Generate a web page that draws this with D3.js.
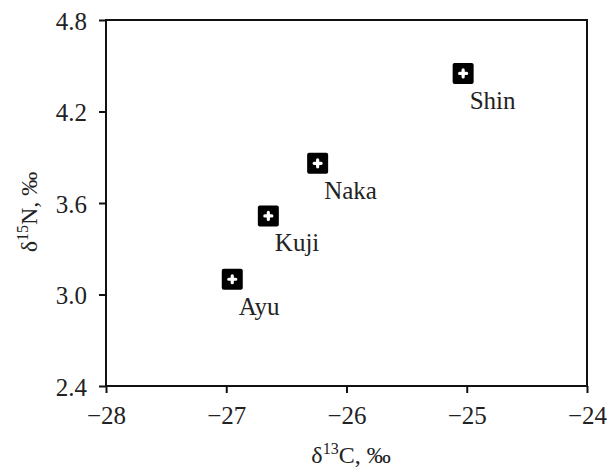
<!DOCTYPE html>
<html><head><meta charset="utf-8">
<script src="https://cdn.jsdelivr.net/npm/d3@7"></script>
<style>body{margin:0;background:#fff}</style>
</head><body>
<svg id="c" width="607" height="470"></svg>
<script>
const sites = ["Shin", "Naka", "Kuji", "Ayu"];
const d13C = [-25.03, -26.24, -26.65, -26.95];
const d15N = [4.45, 3.86, 3.515, 3.10];
const xTicks = [-28, -27, -26, -25, -24];
const yTicks = [2.4, 3.0, 3.6, 4.2, 4.8];

const svg = d3.select("#c");
const font = "'Liberation Serif','Times New Roman',serif";
const m = {l:106, t:20, r:587, b:386};
const x = d3.scaleLinear().domain([-28,-24]).range([m.l, m.r]);
const y = d3.scaleLinear().domain([2.4,4.8]).range([m.b, m.t]);

// frame
svg.append("rect").attr("x",m.l).attr("y",m.t).attr("width",m.r-m.l).attr("height",m.b-m.t)
  .attr("fill","none").attr("stroke","#111").attr("stroke-width",2);

const fmtX = d => (d<0?"\u2212":"") + Math.abs(d);
const xa = svg.append("g").attr("transform",`translate(0,${m.b})`)
  .call(d3.axisBottom(x).tickValues(xTicks).tickSize(7).tickPadding(14).tickFormat(fmtX));
const ya = svg.append("g").attr("transform",`translate(${m.l},0)`)
  .call(d3.axisLeft(y).tickValues(yTicks).tickSize(7).tickPadding(12).tickFormat(d3.format(".1f")));
[xa,ya].forEach(a=>{
  a.select(".domain").remove();
  a.selectAll("line").attr("stroke","#111").attr("stroke-width",2);
  a.selectAll("text").attr("font-family",font).attr("font-size",25).attr("fill","#222");
});
ya.selectAll("text").attr("dy","0.36em");
xa.selectAll("text").attr("dy","0.68em");

// axis titles
const xt = svg.append("text").attr("x",351).attr("y",463).attr("text-anchor","middle")
  .attr("font-family",font).attr("font-size",24).attr("fill","#222");
xt.append("tspan").text("\u03b4");
xt.append("tspan").attr("font-size",16).attr("dy",-9).text("13");
xt.append("tspan").attr("dy",9).text("C, \u2030");

const yt = svg.append("text").attr("transform","translate(37,212) rotate(-90)").attr("text-anchor","middle")
  .attr("font-family",font).attr("font-size",24).attr("fill","#222");
yt.append("tspan").text("\u03b4");
yt.append("tspan").attr("font-size",16).attr("dy",-9).text("15");
yt.append("tspan").attr("dy",9).text("N, \u2030");

// points
const data = sites.map((s,i)=>({s, cx:d13C[i], ny:d15N[i]}));
const g = svg.append("g").selectAll("g").data(data).join("g")
  .attr("transform", d=>`translate(${x(d.cx)},${y(d.ny)})`);
g.append("rect").attr("x",-10.5).attr("y",-10.5).attr("width",21).attr("height",21).attr("rx",2)
  .attr("fill","#000");
g.append("path").attr("d","M-3.5,0H3.5M0,-3.5V3.5").attr("stroke","#fff").attr("stroke-width",3.2)
  .attr("stroke-linecap","round");
g.append("text").attr("x",6.5).attr("y",35.5).attr("font-family",font).attr("font-size",25)
  .attr("fill","#222").text(d=>d.s);
</script>
</body></html>
